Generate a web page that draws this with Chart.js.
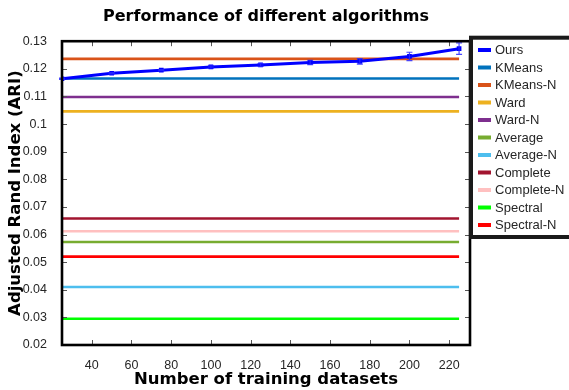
<!DOCTYPE html>
<html lang="en">
<head>
<meta charset="UTF-8">
<title>Performance of different algorithms</title>
<script src="https://cdn.jsdelivr.net/npm/chart.js"></script>
<style>
    body { margin: 0; background: #fff; }
    canvas { display: block; }
</style>
</head>
<body>
<canvas id="perfChart" width="569" height="390"></canvas>
<script>
    // Ours: ARI vs number of training datasets
    const trainSizes = [25, 50, 75, 100, 125, 150, 175, 200, 225];
    const oursAri = [0.1164, 0.1184, 0.1195, 0.1207, 0.1214, 0.1223, 0.1227, 0.1245, 0.1273];
    const oursErr = [0.0002, 0.0002, 0.0002, 0.0004, 0.0005, 0.0008, 0.0010, 0.0015, 0.0021];

    // Baselines, constant over training size
    const baselineNames = ['KMeans', 'KMeans-N', 'Ward', 'Ward-N', 'Average', 'Average-N', 'Complete', 'Complete-N', 'Spectral', 'Spectral-N'];
    const baselineAri = [0.1165, 0.1236, 0.1046, 0.1098, 0.0573, 0.0410, 0.0658, 0.0612, 0.0295, 0.0520];
    const baselineColors = ['#0072BD', '#D95319', '#EDB120', '#7E2F8E', '#77AC30', '#4DBEEE', '#A2142F', '#FFC0C0', '#00FF00', '#FF0000'];

    // Tick labels
    const xTicks = [40, 60, 80, 100, 120, 140, 160, 180, 200, 220];
    const yTicks = [0.02, 0.03, 0.04, 0.05, 0.06, 0.07, 0.08, 0.09, 0.10, 0.11, 0.12, 0.13];

    const titleFont = 'DejaVu Sans';
    const textFont = 'Liberation Sans';

    const datasets = [{
        label: 'Ours',
        data: trainSizes.map((x, i) => ({ x: x, y: oursAri[i] })),
        borderColor: '#0000FF',
        backgroundColor: '#0000FF',
        borderWidth: 3,
        pointStyle: 'rect',
        pointRadius: 1.2,
        tension: 0
    }];
    baselineNames.forEach((name, i) => {
        datasets.push({
            label: name,
            data: [
                { x: trainSizes[0], y: baselineAri[i] },
                { x: trainSizes[trainSizes.length - 1], y: baselineAri[i] }
            ],
            borderColor: baselineColors[i],
            backgroundColor: baselineColors[i],
            borderWidth: 2.6,
            pointRadius: 0
        });
    });

    // error bars for Ours
    const errorBars = {
        id: 'errorBars',
        afterDatasetsDraw(chart) {
            const { ctx, scales: { x, y } } = chart;
            ctx.save();
            ctx.strokeStyle = 'rgba(40, 40, 255, 0.85)';
            ctx.lineWidth = 1.2;
            trainSizes.forEach((t, i) => {
                const px = x.getPixelForValue(t);
                const top = y.getPixelForValue(oursAri[i] + oursErr[i]);
                const bot = y.getPixelForValue(oursAri[i] - oursErr[i]);
                ctx.beginPath();
                ctx.moveTo(px, top); ctx.lineTo(px, bot);
                ctx.moveTo(px - 3, top); ctx.lineTo(px + 3, top);
                ctx.moveTo(px - 3, bot); ctx.lineTo(px + 3, bot);
                ctx.stroke();
            });
            ctx.restore();
        }
    };

    // box frame with inward ticks on all four sides
    const frame = {
        id: 'frame',
        afterDraw(chart) {
            const { ctx, chartArea: a, scales: { x, y } } = chart;
            ctx.save();
            ctx.strokeStyle = '#555';
            ctx.lineWidth = 1;
            ctx.beginPath();
            xTicks.forEach(t => {
                const px = Math.round(x.getPixelForValue(t)) + 0.5;
                ctx.moveTo(px, a.bottom); ctx.lineTo(px, a.bottom - 5);
                ctx.moveTo(px, a.top); ctx.lineTo(px, a.top + 5);
            });
            yTicks.forEach(t => {
                const py = Math.round(y.getPixelForValue(t)) + 0.5;
                ctx.moveTo(a.left, py); ctx.lineTo(a.left + 5, py);
                ctx.moveTo(a.right, py); ctx.lineTo(a.right - 5, py);
            });
            ctx.stroke();
            ctx.strokeStyle = '#000';
            ctx.lineWidth = 2.6;
            ctx.strokeRect(a.left, a.top, a.right - a.left, a.bottom - a.top);
            ctx.restore();
        }
    };

    // legend box on the right, partly cut by the canvas edge
    const sideLegend = {
        id: 'sideLegend',
        afterDraw(chart) {
            const { ctx } = chart;
            ctx.save();
            ctx.fillStyle = '#fff';
            ctx.fillRect(471, 37.7, 110, 199.3);
            ctx.strokeStyle = '#1a1a1a';
            ctx.lineWidth = 4;
            ctx.strokeRect(471, 37.7, 110, 199.3);
            ctx.font = '13px "' + textFont + '"';
            ctx.textBaseline = 'middle';
            chart.data.datasets.forEach((ds, i) => {
                const ly = 50 + i * 17.5;
                ctx.strokeStyle = ds.borderColor;
                ctx.lineWidth = 4;
                ctx.beginPath();
                ctx.moveTo(478, ly); ctx.lineTo(491, ly);
                ctx.stroke();
                ctx.fillStyle = '#262626';
                ctx.fillText(ds.label, 495, ly + 0.5);
            });
            ctx.restore();
        }
    };

    new Chart(document.getElementById('perfChart'), {
        type: 'line',
        data: { datasets: datasets },
        options: {
            responsive: false,
            animation: false,
            devicePixelRatio: 1,
            layout: { padding: { left: 0, top: 0, right: 99, bottom: 0 } },
            plugins: {
                legend: { display: false },
                tooltip: { enabled: false },
                title: {
                    display: true,
                    text: 'Performance of different algorithms',
                    fullSize: false,
                    color: '#000',
                    font: { family: titleFont, size: 16, weight: 'bold' },
                    padding: { top: 7, bottom: 15 }
                }
            },
            scales: {
                x: {
                    type: 'linear',
                    min: 25,
                    max: 230.5,
                    afterFit: s => { s.height = 45; },
                    afterBuildTicks: s => { s.ticks = xTicks.map(v => ({ value: v })); },
                    grid: { display: false },
                    border: { display: false },
                    ticks: {
                        color: '#262626',
                        padding: 5.5,
                        maxRotation: 0,
                        font: { family: textFont, size: 12.5 }
                    },
                    title: {
                        display: true,
                        text: 'Number of training datasets',
                        color: '#000',
                        font: { family: titleFont, size: 16.5, weight: 'bold' },
                        padding: { top: 0, bottom: 0 }
                    }
                },
                y: {
                    min: 0.02,
                    max: 0.13,
                    afterFit: s => { s.width = 62; },
                    afterBuildTicks: s => { s.ticks = yTicks.map(v => ({ value: v })); },
                    grid: { display: false },
                    border: { display: false },
                    ticks: {
                        color: '#262626',
                        padding: 7,
                        font: { family: textFont, size: 12.5 },
                        callback: v => String(+v.toFixed(2))
                    },
                    title: {
                        display: true,
                        text: 'Adjusted Rand Index (ARI)',
                        color: '#000',
                        font: { family: titleFont, size: 16.5, weight: 'bold' },
                        padding: { top: 6, bottom: 0 }
                    }
                }
            }
        },
        plugins: [errorBars, frame, sideLegend]
    });
</script>
</body>
</html>
